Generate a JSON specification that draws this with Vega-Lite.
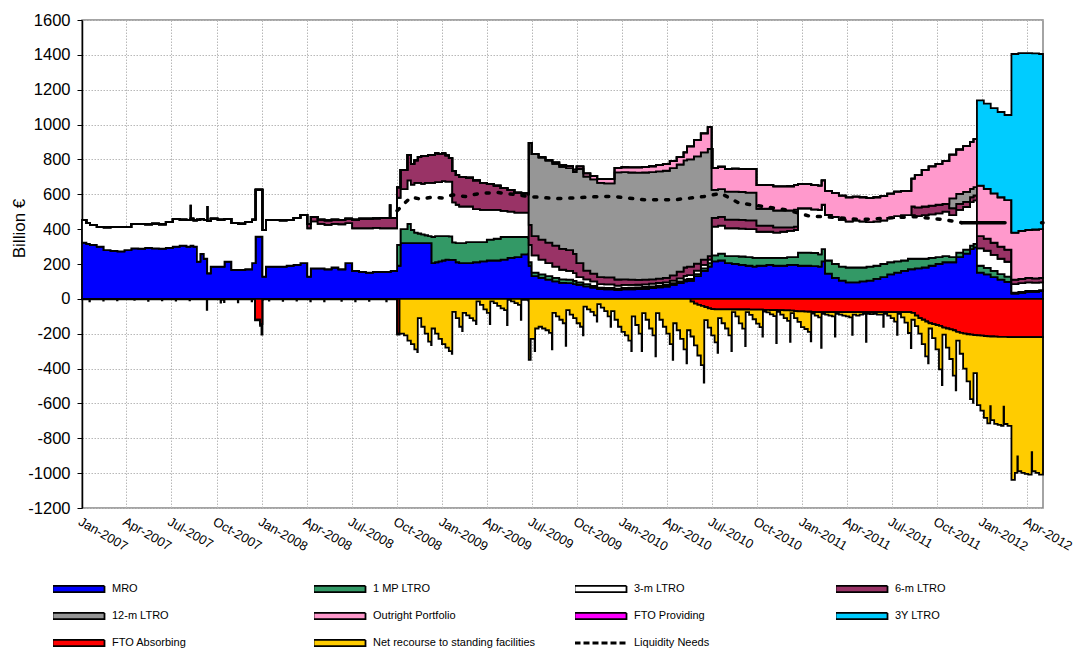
{
"width": 961, "height": 488,
"autosize": {"type": "none"},
"padding": {"left": 82, "top": 20, "right": 32, "bottom": 140},
"config": {"font": "Liberation Sans", "view": {"stroke": "#868686", "strokeWidth": 1.5},
  "axisY": {"labelOverlap": false, "labelFlush": false, "labelFontSize": 16.5, "labelColor": "black", "labelPadding": 7, "tickSize": 5, "tickColor": "black",
     "domainColor": "black", "domainWidth": 1.5, "grid": true, "gridColor": "#b8b8b8", "gridDash": [1.5,1.5],
     "titleFontSize": 17, "titleFontWeight": "normal", "titleColor": "black"},
  "axisX": {"labelOverlap": false, "labelFlush": false, "labelBound": false, "labelFontSize": 13, "labelColor": "black", "labelPadding": 7,
     "ticks": false, "tickSize": 0, "domain": false, "grid": true, "gridColor": "#b8b8b8", "gridDash": [1.5,1.5]}},
"resolve": {"axis": {"x": "independent", "y": "independent"}},
"datasets": {
"series": [{"k":"mro","series":"MRO","o":1},{"k":"m1","series":"1 MP LTRO","o":2},{"k":"m3","series":"3-m LTRO","o":3},{"k":"m6","series":"6-m LTRO","o":4},{"k":"m12","series":"12-m LTRO","o":5},{"k":"op","series":"Outright Portfolio","o":6},{"k":"fp","series":"FTO Providing","o":7},{"k":"y3","series":"3Y LTRO","o":8},{"k":"fa","series":"FTO Absorbing","o":9},{"k":"sf","series":"Net recourse to standing facilities","o":10}],
"pos": [
{"d":"2007-01-01","mro":323,"m1":0,"m3":130,"m6":0,"m12":0,"op":0,"fp":0,"y3":0},
{"d":"2007-01-10","mro":315,"m1":0,"m3":120,"m6":0,"m12":0,"op":0,"fp":0,"y3":0},
{"d":"2007-01-17","mro":310,"m1":0,"m3":115,"m6":0,"m12":0,"op":0,"fp":0,"y3":0},
{"d":"2007-01-31","mro":300,"m1":0,"m3":112,"m6":0,"m12":0,"op":0,"fp":0,"y3":0},
{"d":"2007-02-14","mro":280,"m1":0,"m3":130,"m6":0,"m12":0,"op":0,"fp":0,"y3":0},
{"d":"2007-02-28","mro":275,"m1":0,"m3":138,"m6":0,"m12":0,"op":0,"fp":0,"y3":0},
{"d":"2007-03-14","mro":272,"m1":0,"m3":140,"m6":0,"m12":0,"op":0,"fp":0,"y3":0},
{"d":"2007-03-28","mro":280,"m1":0,"m3":132,"m6":0,"m12":0,"op":0,"fp":0,"y3":0},
{"d":"2007-04-11","mro":290,"m1":0,"m3":140,"m6":0,"m12":0,"op":0,"fp":0,"y3":0},
{"d":"2007-04-25","mro":288,"m1":0,"m3":142,"m6":0,"m12":0,"op":0,"fp":0,"y3":0},
{"d":"2007-05-09","mro":292,"m1":0,"m3":135,"m6":0,"m12":0,"op":0,"fp":0,"y3":0},
{"d":"2007-05-23","mro":290,"m1":0,"m3":142,"m6":0,"m12":0,"op":0,"fp":0,"y3":0},
{"d":"2007-06-06","mro":288,"m1":0,"m3":140,"m6":0,"m12":0,"op":0,"fp":0,"y3":0},
{"d":"2007-06-20","mro":292,"m1":0,"m3":150,"m6":0,"m12":0,"op":0,"fp":0,"y3":0},
{"d":"2007-07-04","mro":300,"m1":0,"m3":158,"m6":0,"m12":0,"op":0,"fp":0,"y3":0},
{"d":"2007-07-18","mro":305,"m1":0,"m3":150,"m6":0,"m12":0,"op":0,"fp":0,"y3":0},
{"d":"2007-08-01","mro":300,"m1":0,"m3":152,"m6":0,"m12":0,"op":0,"fp":0,"y3":0},
{"d":"2007-08-09","mro":305,"m1":0,"m3":155,"m6":0,"m12":0,"op":0,"fp":75,"y3":0},
{"d":"2007-08-10","mro":305,"m1":0,"m3":155,"m6":0,"m12":0,"op":0,"fp":0,"y3":0},
{"d":"2007-08-15","mro":300,"m1":0,"m3":150,"m6":0,"m12":0,"op":0,"fp":0,"y3":0},
{"d":"2007-08-22","mro":214,"m1":0,"m3":240,"m6":0,"m12":0,"op":0,"fp":0,"y3":0},
{"d":"2007-08-29","mro":258,"m1":0,"m3":200,"m6":0,"m12":0,"op":0,"fp":0,"y3":0},
{"d":"2007-09-05","mro":230,"m1":0,"m3":222,"m6":0,"m12":0,"op":0,"fp":0,"y3":0},
{"d":"2007-09-12","mro":147,"m1":0,"m3":300,"m6":0,"m12":0,"op":0,"fp":80,"y3":0},
{"d":"2007-09-13","mro":147,"m1":0,"m3":300,"m6":0,"m12":0,"op":0,"fp":0,"y3":0},
{"d":"2007-09-19","mro":185,"m1":0,"m3":275,"m6":0,"m12":0,"op":0,"fp":0,"y3":0},
{"d":"2007-10-03","mro":185,"m1":0,"m3":270,"m6":0,"m12":0,"op":0,"fp":0,"y3":0},
{"d":"2007-10-17","mro":214,"m1":0,"m3":245,"m6":0,"m12":0,"op":0,"fp":0,"y3":0},
{"d":"2007-10-31","mro":166,"m1":0,"m3":270,"m6":0,"m12":0,"op":0,"fp":0,"y3":0},
{"d":"2007-11-14","mro":166,"m1":0,"m3":265,"m6":0,"m12":0,"op":0,"fp":0,"y3":0},
{"d":"2007-11-28","mro":170,"m1":0,"m3":270,"m6":0,"m12":0,"op":0,"fp":0,"y3":0},
{"d":"2007-12-12","mro":205,"m1":0,"m3":250,"m6":0,"m12":0,"op":0,"fp":0,"y3":0},
{"d":"2007-12-19","mro":357,"m1":0,"m3":270,"m6":0,"m12":0,"op":0,"fp":0,"y3":0},
{"d":"2008-01-02","mro":128,"m1":0,"m3":268,"m6":0,"m12":0,"op":0,"fp":0,"y3":0},
{"d":"2008-01-09","mro":185,"m1":0,"m3":268,"m6":0,"m12":0,"op":0,"fp":0,"y3":0},
{"d":"2008-02-06","mro":185,"m1":0,"m3":265,"m6":0,"m12":0,"op":0,"fp":0,"y3":0},
{"d":"2008-02-20","mro":190,"m1":0,"m3":262,"m6":0,"m12":0,"op":0,"fp":0,"y3":0},
{"d":"2008-03-05","mro":195,"m1":0,"m3":270,"m6":0,"m12":0,"op":0,"fp":0,"y3":0},
{"d":"2008-03-19","mro":205,"m1":0,"m3":277,"m6":0,"m12":0,"op":0,"fp":0,"y3":0},
{"d":"2008-04-02","mro":128,"m1":0,"m3":277,"m6":25,"m12":0,"op":0,"fp":0,"y3":0},
{"d":"2008-04-09","mro":175,"m1":0,"m3":270,"m6":25,"m12":0,"op":0,"fp":0,"y3":0},
{"d":"2008-04-23","mro":175,"m1":0,"m3":255,"m6":25,"m12":0,"op":0,"fp":0,"y3":0},
{"d":"2008-05-07","mro":170,"m1":0,"m3":255,"m6":25,"m12":0,"op":0,"fp":0,"y3":0},
{"d":"2008-05-21","mro":180,"m1":0,"m3":250,"m6":25,"m12":0,"op":0,"fp":0,"y3":0},
{"d":"2008-06-04","mro":170,"m1":0,"m3":258,"m6":25,"m12":0,"op":0,"fp":0,"y3":0},
{"d":"2008-06-18","mro":205,"m1":0,"m3":230,"m6":25,"m12":0,"op":0,"fp":0,"y3":0},
{"d":"2008-07-02","mro":160,"m1":0,"m3":245,"m6":50,"m12":0,"op":0,"fp":0,"y3":0},
{"d":"2008-07-16","mro":155,"m1":0,"m3":250,"m6":55,"m12":0,"op":0,"fp":0,"y3":0},
{"d":"2008-07-30","mro":150,"m1":0,"m3":255,"m6":55,"m12":0,"op":0,"fp":0,"y3":0},
{"d":"2008-08-13","mro":155,"m1":0,"m3":252,"m6":55,"m12":0,"op":0,"fp":0,"y3":0},
{"d":"2008-08-27","mro":155,"m1":0,"m3":250,"m6":58,"m12":0,"op":0,"fp":0,"y3":0},
{"d":"2008-09-16","mro":155,"m1":0,"m3":250,"m6":58,"m12":0,"op":0,"fp":75,"y3":0},
{"d":"2008-09-18","mro":160,"m1":0,"m3":245,"m6":60,"m12":0,"op":0,"fp":0,"y3":0},
{"d":"2008-10-01","mro":190,"m1":120,"m3":270,"m6":60,"m12":0,"op":0,"fp":0,"y3":0},
{"d":"2008-10-08","mro":320,"m1":80,"m3":230,"m6":110,"m12":0,"op":0,"fp":0,"y3":0},
{"d":"2008-10-22","mro":320,"m1":110,"m3":250,"m6":146,"m12":0,"op":0,"fp":0,"y3":0},
{"d":"2008-10-29","mro":320,"m1":75,"m3":260,"m6":120,"m12":0,"op":0,"fp":0,"y3":0},
{"d":"2008-11-05","mro":320,"m1":60,"m3":285,"m6":130,"m12":0,"op":0,"fp":0,"y3":0},
{"d":"2008-11-12","mro":320,"m1":55,"m3":290,"m6":150,"m12":0,"op":0,"fp":0,"y3":0},
{"d":"2008-11-19","mro":320,"m1":50,"m3":290,"m6":160,"m12":0,"op":0,"fp":0,"y3":0},
{"d":"2008-11-26","mro":320,"m1":45,"m3":300,"m6":155,"m12":0,"op":0,"fp":0,"y3":0},
{"d":"2008-12-03","mro":320,"m1":40,"m3":305,"m6":160,"m12":0,"op":0,"fp":0,"y3":0},
{"d":"2008-12-10","mro":205,"m1":150,"m3":310,"m6":160,"m12":0,"op":0,"fp":0,"y3":0},
{"d":"2008-12-17","mro":210,"m1":150,"m3":310,"m6":165,"m12":0,"op":0,"fp":0,"y3":0},
{"d":"2008-12-24","mro":215,"m1":145,"m3":310,"m6":160,"m12":0,"op":0,"fp":0,"y3":0},
{"d":"2008-12-31","mro":220,"m1":140,"m3":315,"m6":160,"m12":0,"op":0,"fp":0,"y3":0},
{"d":"2009-01-07","mro":225,"m1":135,"m3":313,"m6":150,"m12":0,"op":0,"fp":0,"y3":0},
{"d":"2009-01-14","mro":224,"m1":134,"m3":315,"m6":135,"m12":0,"op":0,"fp":0,"y3":0},
{"d":"2009-01-21","mro":224,"m1":100,"m3":230,"m6":180,"m12":0,"op":0,"fp":0,"y3":0},
{"d":"2009-01-28","mro":210,"m1":110,"m3":220,"m6":170,"m12":0,"op":0,"fp":0,"y3":0},
{"d":"2009-02-04","mro":205,"m1":115,"m3":210,"m6":170,"m12":0,"op":0,"fp":0,"y3":0},
{"d":"2009-02-18","mro":205,"m1":120,"m3":205,"m6":165,"m12":0,"op":0,"fp":0,"y3":0},
{"d":"2009-03-04","mro":210,"m1":115,"m3":190,"m6":165,"m12":0,"op":0,"fp":0,"y3":0},
{"d":"2009-03-18","mro":215,"m1":110,"m3":185,"m6":155,"m12":0,"op":0,"fp":0,"y3":0},
{"d":"2009-04-01","mro":220,"m1":120,"m3":170,"m6":150,"m12":0,"op":0,"fp":0,"y3":0},
{"d":"2009-04-15","mro":220,"m1":125,"m3":165,"m6":140,"m12":0,"op":0,"fp":0,"y3":0},
{"d":"2009-04-29","mro":225,"m1":130,"m3":150,"m6":130,"m12":0,"op":0,"fp":0,"y3":0},
{"d":"2009-05-13","mro":235,"m1":120,"m3":145,"m6":125,"m12":0,"op":0,"fp":0,"y3":0},
{"d":"2009-05-27","mro":240,"m1":115,"m3":140,"m6":115,"m12":0,"op":0,"fp":0,"y3":0},
{"d":"2009-06-10","mro":255,"m1":100,"m3":140,"m6":110,"m12":0,"op":0,"fp":0,"y3":0},
{"d":"2009-06-24","mro":260,"m1":90,"m3":145,"m6":105,"m12":0,"op":0,"fp":0,"y3":0},
{"d":"2009-06-25","mro":190,"m1":20,"m3":100,"m6":115,"m12":470,"op":0,"fp":0,"y3":0},
{"d":"2009-07-01","mro":130,"m1":20,"m3":100,"m6":110,"m12":470,"op":0,"fp":0,"y3":0},
{"d":"2009-07-15","mro":120,"m1":20,"m3":85,"m6":115,"m12":470,"op":3,"fp":0,"y3":0},
{"d":"2009-07-29","mro":110,"m1":20,"m3":75,"m6":118,"m12":470,"op":5,"fp":0,"y3":0},
{"d":"2009-08-12","mro":100,"m1":20,"m3":65,"m6":120,"m12":470,"op":8,"fp":0,"y3":0},
{"d":"2009-08-26","mro":92,"m1":20,"m3":55,"m6":120,"m12":470,"op":10,"fp":0,"y3":0},
{"d":"2009-09-09","mro":90,"m1":20,"m3":50,"m6":120,"m12":470,"op":12,"fp":0,"y3":0},
{"d":"2009-09-23","mro":85,"m1":18,"m3":45,"m6":110,"m12":470,"op":14,"fp":0,"y3":0},
{"d":"2009-09-30","mro":80,"m1":15,"m3":30,"m6":80,"m12":540,"op":15,"fp":0,"y3":0},
{"d":"2009-10-14","mro":72,"m1":12,"m3":28,"m6":50,"m12":540,"op":18,"fp":0,"y3":0},
{"d":"2009-10-28","mro":65,"m1":10,"m3":25,"m6":45,"m12":540,"op":20,"fp":0,"y3":0},
{"d":"2009-11-11","mro":56,"m1":8,"m3":20,"m6":41,"m12":540,"op":22,"fp":0,"y3":0},
{"d":"2009-11-25","mro":55,"m1":8,"m3":20,"m6":40,"m12":540,"op":24,"fp":0,"y3":0},
{"d":"2009-12-09","mro":55,"m1":8,"m3":20,"m6":40,"m12":540,"op":25,"fp":0,"y3":0},
{"d":"2009-12-16","mro":50,"m1":8,"m3":18,"m6":35,"m12":615,"op":26,"fp":0,"y3":0},
{"d":"2009-12-30","mro":55,"m1":8,"m3":17,"m6":32,"m12":615,"op":28,"fp":0,"y3":0},
{"d":"2010-01-13","mro":55,"m1":10,"m3":15,"m6":30,"m12":615,"op":29,"fp":0,"y3":0},
{"d":"2010-01-27","mro":56,"m1":10,"m3":15,"m6":28,"m12":615,"op":30,"fp":0,"y3":0},
{"d":"2010-02-10","mro":58,"m1":10,"m3":15,"m6":27,"m12":615,"op":32,"fp":0,"y3":0},
{"d":"2010-02-24","mro":62,"m1":10,"m3":15,"m6":25,"m12":615,"op":34,"fp":0,"y3":0},
{"d":"2010-03-10","mro":66,"m1":10,"m3":15,"m6":25,"m12":615,"op":36,"fp":0,"y3":0},
{"d":"2010-03-24","mro":70,"m1":10,"m3":15,"m6":25,"m12":615,"op":38,"fp":0,"y3":0},
{"d":"2010-04-07","mro":80,"m1":10,"m3":15,"m6":30,"m12":615,"op":40,"fp":0,"y3":0},
{"d":"2010-04-21","mro":90,"m1":10,"m3":18,"m6":38,"m12":615,"op":42,"fp":0,"y3":0},
{"d":"2010-05-05","mro":100,"m1":10,"m3":22,"m6":48,"m12":615,"op":45,"fp":0,"y3":0},
{"d":"2010-05-12","mro":104,"m1":10,"m3":22,"m6":49,"m12":615,"op":75,"fp":0,"y3":0},
{"d":"2010-05-26","mro":130,"m1":12,"m3":20,"m6":40,"m12":615,"op":95,"fp":0,"y3":0},
{"d":"2010-06-09","mro":160,"m1":15,"m3":20,"m6":30,"m12":615,"op":110,"fp":0,"y3":0},
{"d":"2010-06-23","mro":185,"m1":20,"m3":20,"m6":20,"m12":615,"op":125,"fp":0,"y3":0},
{"d":"2010-07-01","mro":215,"m1":35,"m3":165,"m6":50,"m12":160,"op":125,"fp":111,"y3":0},
{"d":"2010-07-03","mro":215,"m1":35,"m3":165,"m6":50,"m12":160,"op":125,"fp":0,"y3":0},
{"d":"2010-07-14","mro":220,"m1":40,"m3":160,"m6":50,"m12":160,"op":128,"fp":0,"y3":0},
{"d":"2010-07-28","mro":205,"m1":40,"m3":160,"m6":50,"m12":160,"op":130,"fp":0,"y3":0},
{"d":"2010-08-11","mro":200,"m1":45,"m3":160,"m6":50,"m12":160,"op":132,"fp":0,"y3":0},
{"d":"2010-08-25","mro":195,"m1":48,"m3":160,"m6":50,"m12":160,"op":133,"fp":0,"y3":0},
{"d":"2010-09-08","mro":190,"m1":50,"m3":160,"m6":50,"m12":160,"op":134,"fp":0,"y3":0},
{"d":"2010-09-22","mro":185,"m1":50,"m3":165,"m6":50,"m12":160,"op":135,"fp":0,"y3":0},
{"d":"2010-09-30","mro":190,"m1":45,"m3":150,"m6":35,"m12":97,"op":136,"fp":0,"y3":0},
{"d":"2010-10-20","mro":195,"m1":40,"m3":150,"m6":35,"m12":97,"op":137,"fp":0,"y3":0},
{"d":"2010-11-03","mro":190,"m1":45,"m3":145,"m6":30,"m12":97,"op":138,"fp":0,"y3":0},
{"d":"2010-11-17","mro":190,"m1":45,"m3":150,"m6":25,"m12":97,"op":138,"fp":0,"y3":0},
{"d":"2010-12-01","mro":195,"m1":45,"m3":150,"m6":20,"m12":97,"op":139,"fp":0,"y3":0},
{"d":"2010-12-15","mro":195,"m1":45,"m3":155,"m6":20,"m12":97,"op":140,"fp":0,"y3":0},
{"d":"2010-12-23","mro":190,"m1":75,"m3":255,"m6":0,"m12":0,"op":140,"fp":0,"y3":0},
{"d":"2011-01-19","mro":188,"m1":75,"m3":250,"m6":0,"m12":0,"op":140,"fp":0,"y3":0},
{"d":"2011-02-02","mro":185,"m1":70,"m3":255,"m6":0,"m12":0,"op":140,"fp":0,"y3":0},
{"d":"2011-02-09","mro":215,"m1":70,"m3":255,"m6":0,"m12":0,"op":140,"fp":0,"y3":0},
{"d":"2011-02-16","mro":145,"m1":75,"m3":262,"m6":0,"m12":0,"op":138,"fp":0,"y3":0},
{"d":"2011-03-02","mro":120,"m1":80,"m3":270,"m6":0,"m12":0,"op":137,"fp":0,"y3":0},
{"d":"2011-03-16","mro":105,"m1":80,"m3":270,"m6":0,"m12":0,"op":137,"fp":0,"y3":0},
{"d":"2011-03-30","mro":95,"m1":85,"m3":265,"m6":0,"m12":0,"op":137,"fp":0,"y3":0},
{"d":"2011-04-13","mro":95,"m1":85,"m3":270,"m6":0,"m12":0,"op":137,"fp":0,"y3":0},
{"d":"2011-04-27","mro":100,"m1":80,"m3":265,"m6":0,"m12":0,"op":138,"fp":0,"y3":0},
{"d":"2011-05-11","mro":105,"m1":80,"m3":255,"m6":0,"m12":0,"op":138,"fp":0,"y3":0},
{"d":"2011-05-25","mro":115,"m1":75,"m3":255,"m6":0,"m12":0,"op":138,"fp":0,"y3":0},
{"d":"2011-06-08","mro":125,"m1":75,"m3":250,"m6":0,"m12":0,"op":139,"fp":0,"y3":0},
{"d":"2011-06-22","mro":140,"m1":70,"m3":255,"m6":0,"m12":0,"op":139,"fp":0,"y3":0},
{"d":"2011-07-06","mro":150,"m1":65,"m3":260,"m6":0,"m12":0,"op":140,"fp":0,"y3":0},
{"d":"2011-07-20","mro":160,"m1":60,"m3":260,"m6":0,"m12":0,"op":140,"fp":0,"y3":0},
{"d":"2011-08-03","mro":170,"m1":60,"m3":250,"m6":0,"m12":0,"op":140,"fp":0,"y3":0},
{"d":"2011-08-10","mro":170,"m1":60,"m3":250,"m6":50,"m12":0,"op":160,"fp":0,"y3":0},
{"d":"2011-08-17","mro":175,"m1":55,"m3":245,"m6":50,"m12":0,"op":185,"fp":0,"y3":0},
{"d":"2011-08-31","mro":180,"m1":50,"m3":250,"m6":50,"m12":0,"op":210,"fp":0,"y3":0},
{"d":"2011-09-14","mro":190,"m1":45,"m3":250,"m6":50,"m12":0,"op":225,"fp":0,"y3":0},
{"d":"2011-09-28","mro":200,"m1":40,"m3":250,"m6":50,"m12":0,"op":235,"fp":0,"y3":0},
{"d":"2011-10-12","mro":210,"m1":35,"m3":255,"m6":45,"m12":0,"op":245,"fp":0,"y3":0},
{"d":"2011-10-26","mro":210,"m1":30,"m3":240,"m6":40,"m12":57,"op":250,"fp":0,"y3":0},
{"d":"2011-11-09","mro":240,"m1":25,"m3":245,"m6":35,"m12":57,"op":255,"fp":0,"y3":0},
{"d":"2011-11-23","mro":260,"m1":22,"m3":245,"m6":30,"m12":57,"op":262,"fp":0,"y3":0},
{"d":"2011-12-07","mro":285,"m1":20,"m3":250,"m6":28,"m12":48,"op":270,"fp":0,"y3":0},
{"d":"2011-12-14","mro":295,"m1":20,"m3":250,"m6":28,"m12":48,"op":275,"fp":0,"y3":0},
{"d":"2011-12-21","mro":150,"m1":40,"m3":100,"m6":70,"m12":0,"op":290,"fp":0,"y3":489},
{"d":"2012-01-04","mro":140,"m1":38,"m3":98,"m6":70,"m12":0,"op":285,"fp":0,"y3":489},
{"d":"2012-01-18","mro":125,"m1":35,"m3":92,"m6":70,"m12":0,"op":283,"fp":0,"y3":489},
{"d":"2012-02-01","mro":110,"m1":32,"m3":88,"m6":70,"m12":0,"op":283,"fp":0,"y3":489},
{"d":"2012-02-15","mro":98,"m1":30,"m3":85,"m6":70,"m12":0,"op":283,"fp":0,"y3":489},
{"d":"2012-02-29","mro":30,"m1":5,"m3":50,"m6":25,"m12":0,"op":270,"fp":0,"y3":1025},
{"d":"2012-03-14","mro":35,"m1":5,"m3":50,"m6":25,"m12":0,"op":275,"fp":0,"y3":1020},
{"d":"2012-03-28","mro":40,"m1":5,"m3":50,"m6":25,"m12":0,"op":275,"fp":0,"y3":1015},
{"d":"2012-04-11","mro":40,"m1":5,"m3":48,"m6":25,"m12":0,"op":280,"fp":0,"y3":1010},
{"d":"2012-04-25","mro":45,"m1":5,"m3":45,"m6":25,"m12":0,"op":280,"fp":0,"y3":1005},
{"d":"2012-05-03","mro":45,"m1":5,"m3":45,"m6":25,"m12":0,"op":280,"fp":0,"y3":1005}
],
"neg": [
{"d":"2007-01-01","fa":0,"sf":-3},{"d":"2007-01-16","fa":0,"sf":-15},{"d":"2007-01-17","fa":0,"sf":-3},
{"d":"2007-02-13","fa":0,"sf":-10},{"d":"2007-02-14","fa":0,"sf":-3},{"d":"2007-03-13","fa":0,"sf":-8},{"d":"2007-03-14","fa":0,"sf":-3},
{"d":"2007-04-17","fa":0,"sf":-6},{"d":"2007-04-18","fa":0,"sf":-3},{"d":"2007-05-15","fa":0,"sf":-12},{"d":"2007-05-16","fa":0,"sf":-3},
{"d":"2007-06-12","fa":0,"sf":-8},{"d":"2007-06-13","fa":0,"sf":-3},{"d":"2007-07-10","fa":0,"sf":-10},{"d":"2007-07-11","fa":0,"sf":-3},
{"d":"2007-08-07","fa":0,"sf":-8},{"d":"2007-08-08","fa":0,"sf":-3},{"d":"2007-09-11","fa":0,"sf":-63},{"d":"2007-09-12","fa":0,"sf":-3},
{"d":"2007-10-09","fa":0,"sf":-22},{"d":"2007-10-10","fa":0,"sf":-5},{"d":"2007-10-16","fa":0,"sf":-18},{"d":"2007-10-17","fa":0,"sf":-3},
{"d":"2007-11-13","fa":0,"sf":-20},{"d":"2007-11-14","fa":0,"sf":-3},{"d":"2007-12-11","fa":0,"sf":-15},{"d":"2007-12-12","fa":0,"sf":-3},
{"d":"2007-12-18","fa":-120,"sf":-3},{"d":"2007-12-28","fa":-145,"sf":-10},{"d":"2007-12-31","fa":-145,"sf":-60},{"d":"2008-01-02","fa":0,"sf":-5},
{"d":"2008-01-03","fa":0,"sf":-3},{"d":"2008-01-15","fa":0,"sf":-10},{"d":"2008-01-16","fa":0,"sf":-3},{"d":"2008-02-12","fa":0,"sf":-12},
{"d":"2008-02-13","fa":0,"sf":-3},{"d":"2008-03-11","fa":0,"sf":-10},{"d":"2008-03-12","fa":0,"sf":-3},{"d":"2008-04-08","fa":0,"sf":-15},
{"d":"2008-04-09","fa":0,"sf":-3},{"d":"2008-05-06","fa":0,"sf":-15},{"d":"2008-05-07","fa":0,"sf":-3},{"d":"2008-06-10","fa":0,"sf":-12},
{"d":"2008-06-11","fa":0,"sf":-3},{"d":"2008-07-08","fa":0,"sf":-15},{"d":"2008-07-09","fa":0,"sf":-3},{"d":"2008-08-05","fa":0,"sf":-12},
{"d":"2008-08-06","fa":0,"sf":-3},{"d":"2008-09-09","fa":0,"sf":-15},{"d":"2008-09-10","fa":0,"sf":-3},
{"d":"2008-10-01","fa":-200,"sf":-5},{"d":"2008-10-06","fa":0,"sf":-200},{"d":"2008-10-15","fa":0,"sf":-210},{"d":"2008-10-22","fa":0,"sf":-240},
{"d":"2008-10-29","fa":0,"sf":-260},{"d":"2008-11-05","fa":0,"sf":-290},{"d":"2008-11-11","fa":0,"sf":-305},{"d":"2008-11-12","fa":0,"sf":-110},
{"d":"2008-11-19","fa":0,"sf":-160},{"d":"2008-11-26","fa":0,"sf":-200},{"d":"2008-12-03","fa":0,"sf":-245},{"d":"2008-12-09","fa":0,"sf":-265},
{"d":"2008-12-10","fa":0,"sf":-170},{"d":"2008-12-17","fa":0,"sf":-200},{"d":"2008-12-24","fa":0,"sf":-230},{"d":"2008-12-31","fa":0,"sf":-260},
{"d":"2009-01-07","fa":0,"sf":-280},{"d":"2009-01-14","fa":0,"sf":-300},{"d":"2009-01-20","fa":0,"sf":-315},{"d":"2009-01-21","fa":0,"sf":-75},
{"d":"2009-01-28","fa":0,"sf":-110},{"d":"2009-02-04","fa":0,"sf":-160},{"d":"2009-02-10","fa":0,"sf":-185},{"d":"2009-02-11","fa":0,"sf":-80},
{"d":"2009-02-18","fa":0,"sf":-95},{"d":"2009-02-25","fa":0,"sf":-110},{"d":"2009-03-04","fa":0,"sf":-125},{"d":"2009-03-10","fa":0,"sf":-145},
{"d":"2009-03-11","fa":0,"sf":-15},{"d":"2009-03-18","fa":0,"sf":-35},{"d":"2009-03-25","fa":0,"sf":-60},{"d":"2009-04-01","fa":0,"sf":-80},
{"d":"2009-04-07","fa":0,"sf":-145},{"d":"2009-04-08","fa":0,"sf":-15},{"d":"2009-04-15","fa":0,"sf":-25},{"d":"2009-04-22","fa":0,"sf":-40},
{"d":"2009-04-29","fa":0,"sf":-55},{"d":"2009-05-06","fa":0,"sf":-65},{"d":"2009-05-12","fa":0,"sf":-150},{"d":"2009-05-13","fa":0,"sf":-6},
{"d":"2009-05-20","fa":0,"sf":-15},{"d":"2009-05-27","fa":0,"sf":-25},{"d":"2009-06-03","fa":0,"sf":-35},{"d":"2009-06-09","fa":0,"sf":-120},
{"d":"2009-06-10","fa":0,"sf":-5},{"d":"2009-06-24","fa":0,"sf":-10},{"d":"2009-06-25","fa":0,"sf":-350},{"d":"2009-06-29","fa":0,"sf":-230},
{"d":"2009-07-07","fa":0,"sf":-300},{"d":"2009-07-08","fa":0,"sf":-170},{"d":"2009-07-15","fa":0,"sf":-160},{"d":"2009-07-22","fa":0,"sf":-170},
{"d":"2009-07-29","fa":0,"sf":-180},{"d":"2009-08-05","fa":0,"sf":-195},{"d":"2009-08-11","fa":0,"sf":-290},{"d":"2009-08-12","fa":0,"sf":-80},
{"d":"2009-08-19","fa":0,"sf":-100},{"d":"2009-08-26","fa":0,"sf":-120},{"d":"2009-09-02","fa":0,"sf":-140},{"d":"2009-09-08","fa":0,"sf":-270},
{"d":"2009-09-09","fa":0,"sf":-65},{"d":"2009-09-16","fa":0,"sf":-90},{"d":"2009-09-23","fa":0,"sf":-110},{"d":"2009-09-30","fa":0,"sf":-140},
{"d":"2009-10-07","fa":0,"sf":-160},{"d":"2009-10-13","fa":0,"sf":-210},{"d":"2009-10-14","fa":0,"sf":-45},{"d":"2009-10-21","fa":0,"sf":-60},
{"d":"2009-10-28","fa":0,"sf":-75},{"d":"2009-11-04","fa":0,"sf":-95},{"d":"2009-11-10","fa":0,"sf":-130},{"d":"2009-11-11","fa":0,"sf":-30},
{"d":"2009-11-18","fa":0,"sf":-50},{"d":"2009-11-25","fa":0,"sf":-70},{"d":"2009-12-02","fa":0,"sf":-100},{"d":"2009-12-08","fa":0,"sf":-160},
{"d":"2009-12-09","fa":0,"sf":-70},{"d":"2009-12-16","fa":0,"sf":-120},{"d":"2009-12-23","fa":0,"sf":-160},{"d":"2009-12-30","fa":0,"sf":-190},
{"d":"2010-01-06","fa":0,"sf":-210},{"d":"2010-01-13","fa":0,"sf":-240},{"d":"2010-01-19","fa":0,"sf":-300},{"d":"2010-01-20","fa":0,"sf":-100},
{"d":"2010-01-27","fa":0,"sf":-150},{"d":"2010-02-03","fa":0,"sf":-200},{"d":"2010-02-09","fa":0,"sf":-300},{"d":"2010-02-10","fa":0,"sf":-82},
{"d":"2010-02-17","fa":0,"sf":-120},{"d":"2010-02-24","fa":0,"sf":-170},{"d":"2010-03-03","fa":0,"sf":-210},{"d":"2010-03-09","fa":0,"sf":-330},
{"d":"2010-03-10","fa":0,"sf":-82},{"d":"2010-03-17","fa":0,"sf":-120},{"d":"2010-03-24","fa":0,"sf":-160},{"d":"2010-03-31","fa":0,"sf":-200},
{"d":"2010-04-07","fa":0,"sf":-260},{"d":"2010-04-13","fa":0,"sf":-350},{"d":"2010-04-14","fa":0,"sf":-140},{"d":"2010-04-21","fa":0,"sf":-180},
{"d":"2010-04-28","fa":0,"sf":-230},{"d":"2010-05-05","fa":0,"sf":-290},{"d":"2010-05-11","fa":0,"sf":-370},{"d":"2010-05-12","fa":0,"sf":-180},
{"d":"2010-05-19","fa":-16,"sf":-200},{"d":"2010-05-26","fa":-27,"sf":-240},{"d":"2010-06-02","fa":-35,"sf":-290},{"d":"2010-06-09","fa":-40,"sf":-340},
{"d":"2010-06-15","fa":-40,"sf":-440},{"d":"2010-06-16","fa":-47,"sf":-75},{"d":"2010-06-23","fa":-55,"sf":-110},{"d":"2010-06-30","fa":-59,"sf":-150},
{"d":"2010-07-07","fa":-60,"sf":-190},{"d":"2010-07-13","fa":-60,"sf":-250},{"d":"2010-07-14","fa":-60,"sf":-50},{"d":"2010-07-21","fa":-60,"sf":-80},
{"d":"2010-07-28","fa":-60,"sf":-110},{"d":"2010-08-04","fa":-60,"sf":-150},{"d":"2010-08-10","fa":-60,"sf":-240},{"d":"2010-08-11","fa":-61,"sf":-15},
{"d":"2010-08-18","fa":-61,"sf":-40},{"d":"2010-08-25","fa":-61,"sf":-80},{"d":"2010-09-01","fa":-61,"sf":-110},{"d":"2010-09-07","fa":-61,"sf":-210},
{"d":"2010-09-08","fa":-61,"sf":-15},{"d":"2010-09-15","fa":-62,"sf":-30},{"d":"2010-09-22","fa":-62,"sf":-55},{"d":"2010-09-29","fa":-62,"sf":-80},
{"d":"2010-10-06","fa":-62,"sf":-100},{"d":"2010-10-12","fa":-62,"sf":-155},{"d":"2010-10-13","fa":-63,"sf":-10},{"d":"2010-10-20","fa":-63,"sf":-15},
{"d":"2010-10-27","fa":-64,"sf":-25},{"d":"2010-11-03","fa":-64,"sf":-35},{"d":"2010-11-09","fa":-64,"sf":-190},{"d":"2010-11-10","fa":-65,"sf":-10},
{"d":"2010-11-17","fa":-65,"sf":-25},{"d":"2010-11-24","fa":-66,"sf":-45},{"d":"2010-12-01","fa":-66,"sf":-60},{"d":"2010-12-07","fa":-67,"sf":-180},
{"d":"2010-12-08","fa":-67,"sf":-15},{"d":"2010-12-15","fa":-70,"sf":-40},{"d":"2010-12-22","fa":-72,"sf":-60},{"d":"2010-12-29","fa":-72,"sf":-90},
{"d":"2011-01-05","fa":-73,"sf":-100},{"d":"2011-01-12","fa":-74,"sf":-115},{"d":"2011-01-18","fa":-74,"sf":-170},{"d":"2011-01-19","fa":-75,"sf":-10},
{"d":"2011-01-26","fa":-76,"sf":-20},{"d":"2011-02-02","fa":-76,"sf":-30},{"d":"2011-02-08","fa":-76,"sf":-205},{"d":"2011-02-09","fa":-76,"sf":-10},
{"d":"2011-02-16","fa":-76,"sf":-15},{"d":"2011-02-23","fa":-76,"sf":-20},{"d":"2011-03-02","fa":-76,"sf":-25},{"d":"2011-03-08","fa":-76,"sf":-140},
{"d":"2011-03-09","fa":-76,"sf":-10},{"d":"2011-03-16","fa":-76,"sf":-15},{"d":"2011-03-23","fa":-76,"sf":-20},{"d":"2011-03-30","fa":-76,"sf":-25},
{"d":"2011-04-06","fa":-76,"sf":-30},{"d":"2011-04-12","fa":-76,"sf":-130},{"d":"2011-04-13","fa":-76,"sf":-15},{"d":"2011-04-20","fa":-76,"sf":-20},
{"d":"2011-04-27","fa":-76,"sf":-15},{"d":"2011-05-04","fa":-76,"sf":-10},{"d":"2011-05-10","fa":-76,"sf":-170},{"d":"2011-05-11","fa":-76,"sf":-10},
{"d":"2011-05-18","fa":-76,"sf":-12},{"d":"2011-05-25","fa":-76,"sf":-10},{"d":"2011-06-01","fa":-76,"sf":-15},{"d":"2011-06-14","fa":-76,"sf":-85},
{"d":"2011-06-15","fa":-76,"sf":-10},{"d":"2011-06-22","fa":-76,"sf":-20},{"d":"2011-06-29","fa":-76,"sf":-35},{"d":"2011-07-06","fa":-76,"sf":-55},
{"d":"2011-07-12","fa":-76,"sf":-130},{"d":"2011-07-13","fa":-76,"sf":-10},{"d":"2011-07-20","fa":-76,"sf":-30},{"d":"2011-07-27","fa":-76,"sf":-60},
{"d":"2011-08-03","fa":-76,"sf":-120},{"d":"2011-08-09","fa":-76,"sf":-207},{"d":"2011-08-10","fa":-80,"sf":-40},{"d":"2011-08-17","fa":-96,"sf":-60},
{"d":"2011-08-24","fa":-110,"sf":-90},{"d":"2011-08-31","fa":-120,"sf":-140},{"d":"2011-09-07","fa":-130,"sf":-200},{"d":"2011-09-13","fa":-135,"sf":-235},
{"d":"2011-09-14","fa":-140,"sf":-30},{"d":"2011-09-21","fa":-145,"sf":-80},{"d":"2011-09-28","fa":-150,"sf":-140},{"d":"2011-10-05","fa":-155,"sf":-250},
{"d":"2011-10-11","fa":-160,"sf":-335},{"d":"2011-10-12","fa":-165,"sf":-40},{"d":"2011-10-19","fa":-170,"sf":-110},{"d":"2011-10-26","fa":-175,"sf":-170},
{"d":"2011-11-02","fa":-180,"sf":-260},{"d":"2011-11-08","fa":-185,"sf":-340},{"d":"2011-11-09","fa":-190,"sf":-50},{"d":"2011-11-16","fa":-195,"sf":-120},
{"d":"2011-11-23","fa":-200,"sf":-200},{"d":"2011-11-30","fa":-203,"sf":-270},{"d":"2011-12-07","fa":-205,"sf":-370},{"d":"2011-12-13","fa":-207,"sf":-390},
{"d":"2011-12-14","fa":-208,"sf":-218},{"d":"2011-12-21","fa":-210,"sf":-400},{"d":"2011-12-28","fa":-211,"sf":-430},{"d":"2012-01-04","fa":-213,"sf":-470},
{"d":"2012-01-11","fa":-215,"sf":-500},{"d":"2012-01-17","fa":-216,"sf":-400},{"d":"2012-01-18","fa":-216,"sf":-480},{"d":"2012-01-25","fa":-217,"sf":-500},
{"d":"2012-02-01","fa":-218,"sf":-505},{"d":"2012-02-08","fa":-218,"sf":-510},{"d":"2012-02-13","fa":-218,"sf":-400},{"d":"2012-02-14","fa":-218,"sf":-500},
{"d":"2012-02-21","fa":-219,"sf":-510},{"d":"2012-02-29","fa":-219,"sf":-820},{"d":"2012-03-07","fa":-219,"sf":-780},{"d":"2012-03-12","fa":-219,"sf":-685},
{"d":"2012-03-13","fa":-219,"sf":-770},{"d":"2012-03-20","fa":-219,"sf":-780},{"d":"2012-03-27","fa":-219,"sf":-785},{"d":"2012-04-03","fa":-219,"sf":-790},
{"d":"2012-04-10","fa":-219,"sf":-660},{"d":"2012-04-11","fa":-219,"sf":-770},{"d":"2012-04-18","fa":-219,"sf":-780},{"d":"2012-04-25","fa":-219,"sf":-790},
{"d":"2012-05-03","fa":-219,"sf":-795}
],
"liq": [
{"d":"2008-10-01","ln":505,"seg":"dash"},{"d":"2008-10-15","ln":545,"seg":"dash"},{"d":"2008-10-29","ln":583,"seg":"dash"},
{"d":"2008-11-19","ln":572,"seg":"dash"},{"d":"2008-12-10","ln":583,"seg":"dash"},{"d":"2009-01-01","ln":579,"seg":"dash"},
{"d":"2009-01-22","ln":597,"seg":"dash"},{"d":"2009-02-16","ln":587,"seg":"dash"},{"d":"2009-03-19","ln":606,"seg":"dash"},
{"d":"2009-04-24","ln":610,"seg":"dash"},{"d":"2009-06-01","ln":597,"seg":"dash"},{"d":"2009-06-27","ln":587,"seg":"dash"},
{"d":"2009-08-20","ln":575,"seg":"dash"},{"d":"2009-10-01","ln":580,"seg":"dash"},{"d":"2009-11-15","ln":587,"seg":"dash"},
{"d":"2009-12-15","ln":587,"seg":"dash"},{"d":"2010-02-15","ln":568,"seg":"dash"},{"d":"2010-04-15","ln":568,"seg":"dash"},
{"d":"2010-06-15","ln":587,"seg":"dash"},{"d":"2010-07-20","ln":605,"seg":"dash"},{"d":"2010-08-25","ln":550,"seg":"dash"},
{"d":"2010-10-15","ln":530,"seg":"dash"},{"d":"2010-12-01","ln":510,"seg":"dash"},{"d":"2011-01-15","ln":475,"seg":"dash"},
{"d":"2011-02-20","ln":470,"seg":"dash"},{"d":"2011-04-30","ln":455,"seg":"dash"},{"d":"2011-06-15","ln":462,"seg":"dash"},
{"d":"2011-08-15","ln":472,"seg":"dash"},{"d":"2011-10-15","ln":455,"seg":"dash"},{"d":"2011-11-20","ln":437,"seg":"dash"},
{"d":"2011-11-20","ln":437,"seg":"solid"},{"d":"2012-02-16","ln":437,"seg":"solid"},
{"d":"2012-04-30","ln":437,"seg":"end"},{"d":"2012-05-03","ln":437,"seg":"end"}
]
},
"layer": [
{
"data": {"name": "pos"},
"transform": [
 {"fold": ["mro","m1","m3","m6","m12","op","fp","y3"], "as": ["k","v"]},
 {"lookup": "k", "from": {"data": {"name": "series"}, "key": "k", "fields": ["series","o"]}}
],
"mark": {"type": "area", "interpolate": "step-after", "stroke": "black", "strokeWidth": 1.8},
"encoding": {
 "x": {"field": "d", "type": "temporal", "title": null,
   "scale": {"type": "utc", "domain": [{"year": 2007, "month": 1, "date": 1, "utc": true}, {"year": 2012, "month": 5, "date": 3, "utc": true}]},
   "axis": {"tickCount": {"interval": "month", "step": 3}, "format": "%b-%Y", "labelAngle": 30, "labelAlign": "left", "labelBaseline": "top", "labelOverlap": false}},
 "y": {"field": "v", "type": "quantitative", "stack": "zero", "title": "Billion €",
   "scale": {"domain": [-1200, 1600], "nice": false, "zero": false},
   "axis": {"values": [-1200,-1000,-800,-600,-400,-200,0,200,400,600,800,1000,1200,1400,1600], "labelOverlap": false,
     "labelExpr": "datum.value < 0 ? '-' + (-datum.value) : '' + datum.value",
     "titleX": -63, "titleY": 208, "titleAngle": -90, "titleAlign": "center", "titleBaseline": "middle"}},
 "color": {"field": "series", "type": "nominal",
   "scale": {"domain": ["MRO","1 MP LTRO","3-m LTRO","6-m LTRO","12-m LTRO","Outright Portfolio","FTO Providing","3Y LTRO","FTO Absorbing","Net recourse to standing facilities","Liquidity Needs"],
     "range": ["#0000ff","#339966","#ffffff","#993366","#969696","#ff99cc","#ff00ff","#00ccff","#ff0000","#ffcc00","#000000"]},
   "legend": {"orient": "none", "legendX": -29, "legendY": 559, "direction": "horizontal", "columns": 4, "gridAlign": "all",
     "columnPadding": 39, "rowPadding": 7, "clipHeight": 20, "padding": 0, "title": null,
     "symbolType": "M-1,-0.12H1V0.12H-1Z", "symbolStrokeColor": "black", "symbolStrokeWidth": 1.8,
     "symbolOffset": 20, "labelOffset": 28,
     "labelFontSize": 11, "labelColor": "black", "labelLimit": 400,
     "encode": {"symbols": {"update": {
        "size": {"value": 2704},
        "shape": {"signal": "datum.value === 'Liquidity Needs' ? 'M-1,0H1' : 'M-1,-0.12H1V0.12H-1Z'"},
        "stroke": {"value": "black"},
        "strokeWidth": {"signal": "datum.value === 'Liquidity Needs' ? 3 : 1.8"},
        "strokeDash": {"signal": "datum.value === 'Liquidity Needs' ? [6,3] : [1,0]"}
     }}}}},
 "order": {"field": "o", "type": "quantitative"}
}
},
{
"data": {"name": "neg"},
"transform": [
 {"fold": ["fa","sf"], "as": ["k","v"]},
 {"lookup": "k", "from": {"data": {"name": "series"}, "key": "k", "fields": ["series","o"]}}
],
"mark": {"type": "area", "interpolate": "step-after", "stroke": "black", "strokeWidth": 1.8},
"encoding": {
 "x": {"field": "d", "type": "temporal", "scale": {"type": "utc"}, "axis": null},
 "y": {"field": "v", "type": "quantitative", "stack": "zero", "axis": null},
 "color": {"field": "series", "type": "nominal"},
 "order": {"field": "o", "type": "quantitative"}
}
},
{
"mark": {"type": "rule", "color": "black", "strokeWidth": 1.8},
"encoding": {"y": {"datum": 0, "type": "quantitative", "axis": null}}
},
{
"data": {"name": "liq"},
"transform": [{"filter": {"field": "seg", "equal": "dash"}}],
"mark": {"type": "line", "color": "black", "strokeWidth": 3.5, "strokeDash": [3,9], "strokeCap": "round"},
"encoding": {
 "x": {"field": "d", "type": "temporal", "scale": {"type": "utc"}, "axis": null},
 "y": {"field": "ln", "type": "quantitative", "axis": null}
}
},
{
"data": {"name": "liq"},
"transform": [{"filter": {"field": "seg", "oneOf": ["solid","end"]}}],
"mark": {"type": "line", "color": "black", "strokeWidth": 3.5, "strokeCap": "round"},
"encoding": {
 "x": {"field": "d", "type": "temporal", "scale": {"type": "utc"}, "axis": null},
 "y": {"field": "ln", "type": "quantitative", "axis": null},
 "detail": {"field": "seg"}
}
}
]
}
